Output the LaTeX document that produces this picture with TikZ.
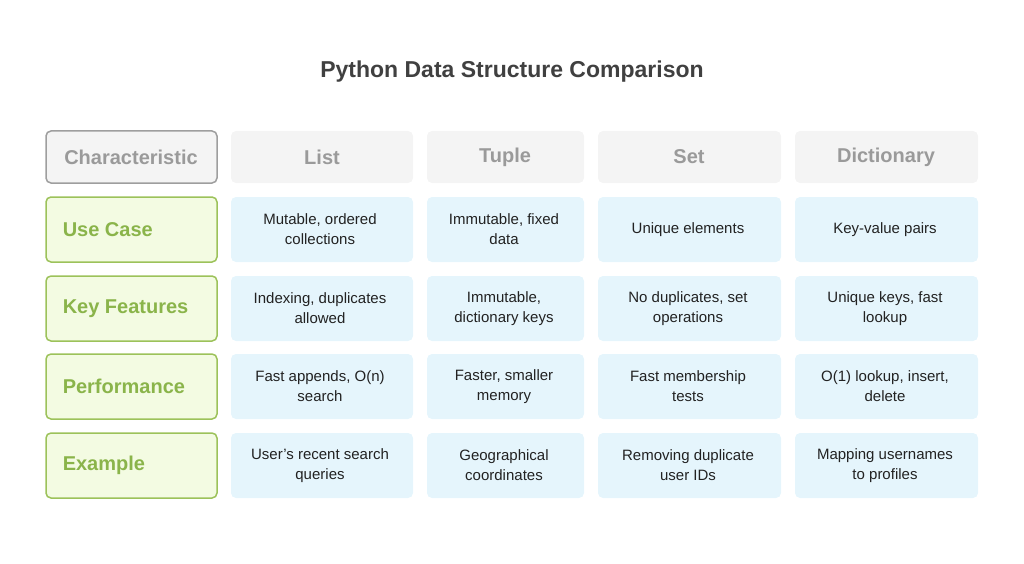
\documentclass[tikz,border=0pt]{standalone}
\usepackage{fontspec}
\setmainfont{Liberation Sans}
\definecolor{hdfill}{HTML}{F4F4F4}
\definecolor{hdtext}{HTML}{9A9A9A}
\definecolor{hdline}{HTML}{9E9E9E}
\definecolor{gfill}{HTML}{F3FBE2}
\definecolor{gline}{HTML}{9CC25A}
\definecolor{gtext}{HTML}{8AB44A}
\definecolor{bfill}{HTML}{E5F5FC}
\definecolor{ttext}{HTML}{222222}
\begin{document}
\begin{tikzpicture}[x=1pt,y=-1pt,
  cell/.style={rounded corners=5pt,inner sep=0pt,align=center,font=\fontsize{15}{20}\selectfont,text=ttext},
  hd/.style={cell,fill=hdfill,text=hdtext,font=\fontsize{20}{24}\selectfont\bfseries},
  chd/.style={hd,draw=hdline,line width=1.5pt},
  rh/.style={cell,fill=gfill,draw=gline,line width=1.5pt,text=gtext,font=\fontsize{20}{24}\selectfont\bfseries,align=left},
  bc/.style={cell,fill=bfill}]
\useasboundingbox (0,0) rectangle (1024,564);
\node[font=\fontsize{23}{28}\selectfont\bfseries,text=black!75] (title) at (512,72) {Python Data Structure Comparison};
\def\rowA{131}\def\rowB{183}
% columns
\newcommand\mkcell[7]{\path[#1] (#2,#3) rectangle (#4,#5); \node[#1,fill=none,draw=none] (#6) at ({(#2+#4)/2},{(#3+#5)/2}) {#7};}
\path[chd] (46,131) rectangle (217,183); \node[hd,fill=none] (hc) at (131,157) {Characteristic};
\path[hd] (231,131) rectangle (413,183); \node[hd,fill=none] (h1) at (322,157) {List};
\path[hd] (427,131) rectangle (584,183); \node[hd,fill=none] (h2) at (505,157) {Tuple};
\path[hd] (598,131) rectangle (781,183); \node[hd,fill=none] (h3) at (689,157) {Set};
\path[hd] (795,131) rectangle (978,183); \node[hd,fill=none] (h4) at (886,157) {Dictionary};
\foreach \y/\lab/\a/\b/\c/\d [count=\i] in {
 197/Use Case/{Mutable, ordered\\collections}/{Immutable, fixed\\data}/{Unique elements}/{Key-value pairs},
 276/Key Features/{Indexing, duplicates\\allowed}/{Immutable,\\dictionary keys}/{No duplicates, set\\operations}/{Unique keys, fast\\lookup},
 354/Performance/{Fast appends, O(n)\\search}/{Faster, smaller\\memory}/{Fast membership\\tests}/{O(1) lookup, insert,\\delete},
 433/Example/{User's recent search\\queries}/{Geographical\\coordinates}/{Removing duplicate\\user IDs}/{Mapping usernames\\to profiles}}{
 \path[rh] (46,\y) rectangle (217,\y+65);
 \node[rh,fill=none,draw=none,anchor=west] (r\i) at (62,\y+32.5) {\lab};
 \path[bc] (231,\y) rectangle (413,\y+65); \node[bc,fill=none] (c\i a) at (320,\y+32.5) {\a};
 \path[bc] (427,\y) rectangle (584,\y+65); \node[bc,fill=none] (c\i b) at (504,\y+32.5) {\b};
 \path[bc] (598,\y) rectangle (781,\y+65); \node[bc,fill=none] (c\i c) at (688,\y+32.5) {\c};
 \path[bc] (795,\y) rectangle (978,\y+65); \node[bc,fill=none] (c\i d) at (885,\y+32.5) {\d};
}
\end{tikzpicture}
\end{document}
